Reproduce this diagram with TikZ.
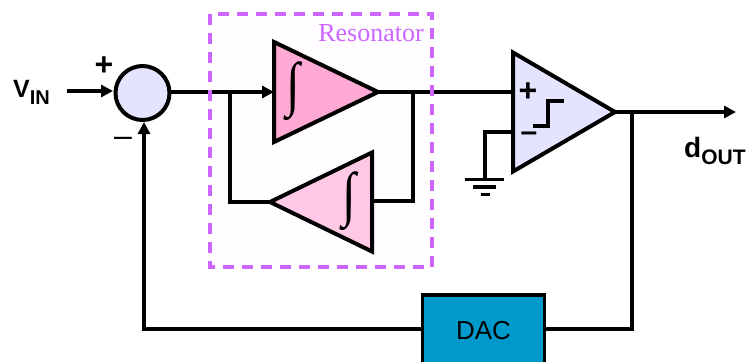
\documentclass[tikz,border=0pt]{standalone}
\usepackage{fontspec}
\setmainfont{Liberation Sans}
\newfontfamily\resfont{Liberation Serif}
\usetikzlibrary{shapes.geometric,arrows.meta,calc}
\definecolor{respurple}{HTML}{CC66FF}
\definecolor{resback}{HTML}{FFFDFF}
\definecolor{intdark}{HTML}{FFAAD4}
\definecolor{intlight}{HTML}{FFC8E4}
\definecolor{lavender}{HTML}{E4E4FF}
\definecolor{dacblue}{HTML}{0099CC}
\newcommand{\fs}[1]{\fontsize{#1}{#1}\selectfont}
\newcommand{\intglyph}{{\resfont\fs{40}\scalebox{1.25}[1.5]{∫}}}
\tikzset{
  x=1pt,y=-1pt,
  wire/.style={line width=3.3pt,line cap=butt,line join=miter},
  arrowwire/.style={wire,-{Triangle[length=12pt,width=12pt]}},
  tri/.style={isosceles triangle,isosceles triangle stretches,draw=black,line width=4pt,inner sep=0pt,outer sep=0pt,miter limit=10},
  boldlabel/.style={inner sep=0pt,font=\bfseries},
  intsign/.style={inner sep=0pt},
}
\begin{document}
\begin{tikzpicture}
\useasboundingbox (0,0) rectangle (751,361);
\fill[resback] (210,14) rectangle (432,267);
% blocks
\node[circle,draw=black,line width=4pt,fill=lavender,minimum size=54pt,inner sep=0pt,outer sep=0pt] (sum) at (142.5,93) {};
\node[tri,fill=intdark,shape border rotate=0,minimum width=100pt,minimum height=104pt,anchor=apex] (int1) at (378,92) {};
\node[tri,fill=intlight,shape border rotate=180,minimum width=99pt,minimum height=102pt,anchor=apex] (int2) at (270,202) {};
\node[tri,fill=lavender,shape border rotate=0,minimum width=119pt,minimum height=102pt,anchor=apex] (cmp) at (615,112) {};
\node[draw=black,line width=3.5pt,fill=dacblue,minimum width=122pt,minimum height=72pt,inner sep=0pt,outer sep=0pt,font=\fs{26}] (dac) at (483.5,331) {DAC};
% free ends and junctions
\coordinate (vin) at (67,91);
\coordinate (sumin) at (113,91);
\coordinate (j1) at (230,92);
\coordinate (j1b) at (230,202);
\coordinate (j2) at (413,92);
\coordinate (j2b) at (413,201);
\coordinate (cmpp) at (513,92);
\coordinate (cmpm) at (513,132);
\coordinate (gcorner) at (485,132);
\coordinate (gnd) at (485,179);
\coordinate (j3) at (632,112);
\coordinate (j3b) at (632,329);
\coordinate (out) at (736,112);
\coordinate (fbcorner) at (144,329);
\coordinate (sumfb) at (144,122);
% connectors
\draw[arrowwire] (vin) -- (sumin);
\draw[arrowwire] (sum.east |- 0,92) -- (int1.west |- 0,92);
\draw[wire] (j1) -- (j1b) -- (int2.apex);
\draw[wire] (int1.apex) -- (cmpp);
\draw[wire] (j2) -- (j2b) -- (372,201);
\draw[wire] (cmpm) -- (gcorner) -- (gnd);
\draw[arrowwire] (cmp.apex) -- (out);
\draw[wire] (j3) -- (j3b) -- (dac.east |- j3b);
\draw[arrowwire] (dac.west |- fbcorner) -- (fbcorner) -- (sumfb);
% ground
\draw[wire] (465,179.5) -- (504,179.5);
\draw[wire] (473,187) -- (496,187);
\draw[wire,line width=3.5pt] (481,194.5) -- (490,194.5);
% comparator transfer curve
\draw[wire] (533,126) -- (548,126) -- (548,101) -- (564,101);
% resonator box
\draw[respurple,line width=3.3pt,dash pattern=on 11pt off 8pt] (210,14) rectangle (432,267);
% text
\node[inner sep=0pt,text=respurple,font=\resfont\fs{26}] (reslabel) at (371,33) {Resonator};
\node[intsign] (i1) at (293,91) {\intglyph};
\node[intsign] (i2) at (349,201) {\intglyph};
\node[boldlabel,font=\bfseries\fs{25},anchor=base west] (vinlabel) at (13,97) {V\raisebox{-7pt}{\fs{20}IN}};
\node[boldlabel,font=\bfseries\fs{28},anchor=base west] (dlabel) at (684,157) {d\raisebox{-7pt}{\fs{21}OUT}};
\node[boldlabel,font=\bfseries\fs{32}] (plus) at (104,66) {+};
\node[inner sep=0pt,font=\fs{32}] (minus) at (123,142) {–};
\node[boldlabel,font=\bfseries\fs{32}] (cplus) at (528,92) {+};
\node[boldlabel,font=\bfseries\fs{30}] (cminus) at (529,137) {–};
\end{tikzpicture}
\end{document}
